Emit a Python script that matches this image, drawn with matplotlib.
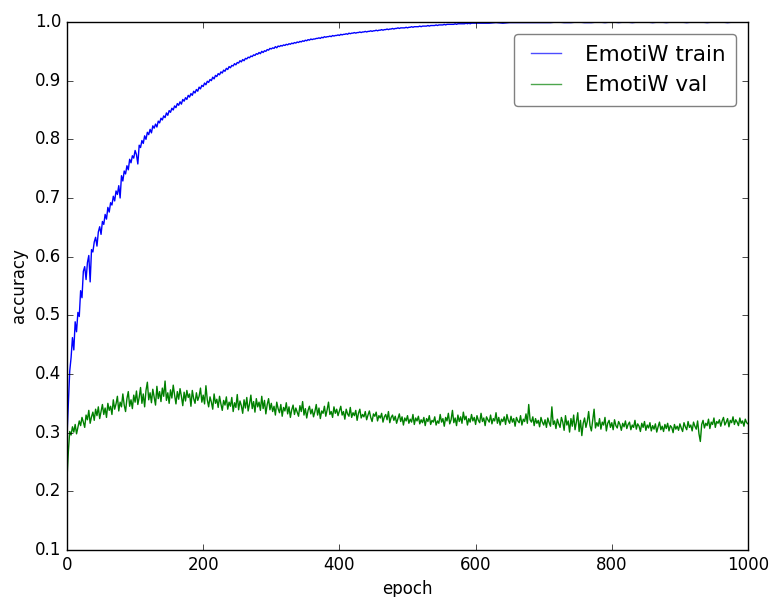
import matplotlib
matplotlib.use("Agg")
import matplotlib.pyplot as plt

plt.style.use("classic")

train_epochs = list(range(0, 601, 2)) + list(range(610, 1001, 10))
train_acc = [
    0.295, 0.352, 0.405, 0.428, 0.462, 0.441, 0.489, 0.472, 0.505, 0.498,
    0.542, 0.530, 0.575, 0.583, 0.561, 0.590, 0.602, 0.557, 0.612, 0.608,
    0.625, 0.633, 0.618, 0.642, 0.651, 0.638, 0.660, 0.655, 0.672, 0.664,
    0.684, 0.676, 0.692, 0.688, 0.703, 0.695, 0.712, 0.706, 0.721, 0.700,
    0.738, 0.729, 0.746, 0.741, 0.755, 0.748, 0.766, 0.760, 0.772, 0.768,
    0.781, 0.774, 0.758, 0.790, 0.786, 0.798, 0.793, 0.806, 0.800, 0.812,
    0.808, 0.817, 0.811, 0.823, 0.819, 0.826, 0.821, 0.831, 0.828, 0.836,
    0.833, 0.840, 0.837, 0.845, 0.841, 0.849, 0.846, 0.853, 0.850, 0.857,
    0.854, 0.861, 0.858, 0.864, 0.860, 0.868, 0.865, 0.871, 0.868, 0.875,
    0.872, 0.878, 0.875, 0.882, 0.879, 0.885, 0.882, 0.889, 0.886, 0.892,
    0.890, 0.896, 0.893, 0.899, 0.897, 0.902, 0.900, 0.906, 0.903, 0.909,
    0.907, 0.912, 0.910, 0.915, 0.913, 0.918, 0.916, 0.921, 0.919, 0.924,
    0.922, 0.926, 0.925, 0.929, 0.927, 0.931, 0.930, 0.934, 0.932, 0.936,
    0.934, 0.938, 0.937, 0.940, 0.939, 0.942, 0.941, 0.944, 0.943, 0.946,
    0.945, 0.948, 0.946, 0.950, 0.948, 0.951, 0.950, 0.953, 0.952, 0.955,
    0.954, 0.956, 0.955, 0.958, 0.956, 0.959, 0.958, 0.960, 0.959, 0.961,
    0.960, 0.962, 0.961, 0.963, 0.962, 0.964, 0.963, 0.965, 0.964, 0.966,
    0.965, 0.967, 0.966, 0.968, 0.967, 0.969, 0.968, 0.970, 0.969, 0.971,
    0.970, 0.971, 0.971, 0.972, 0.972, 0.973, 0.972, 0.974, 0.973, 0.975,
    0.974, 0.975, 0.975, 0.976, 0.975, 0.977, 0.976, 0.977, 0.977, 0.978,
    0.977, 0.979, 0.978, 0.979, 0.979, 0.980, 0.979, 0.981, 0.980, 0.981,
    0.981, 0.982, 0.981, 0.982, 0.982, 0.983, 0.982, 0.983, 0.983, 0.984,
    0.983, 0.984, 0.984, 0.985, 0.984, 0.985, 0.985, 0.986, 0.985, 0.986,
    0.986, 0.987, 0.986, 0.987, 0.987, 0.988, 0.987, 0.988, 0.988, 0.989,
    0.988, 0.989, 0.989, 0.990, 0.989, 0.990, 0.990, 0.990, 0.990, 0.991,
    0.990, 0.991, 0.991, 0.992, 0.991, 0.992, 0.992, 0.992, 0.992, 0.993,
    0.992, 0.993, 0.993, 0.993, 0.993, 0.994, 0.993, 0.994, 0.994, 0.994,
    0.994, 0.995, 0.994, 0.995, 0.995, 0.995, 0.995, 0.996, 0.995, 0.996,
    0.996, 0.996, 0.996, 0.996, 0.996, 0.997, 0.996, 0.997, 0.997, 0.997,
    0.997, 0.997, 0.997, 0.998, 0.997, 0.998, 0.997, 0.998, 0.998, 0.998,
    0.998,
    0.998, 0.998, 0.999, 0.998, 0.999, 0.999, 0.999, 0.999, 0.999, 0.999,
    0.999, 1.000, 0.999, 0.999, 1.000, 0.999, 0.999, 1.000, 0.999, 1.000,
    0.999, 1.000, 0.999, 1.000, 1.000, 0.999, 1.000, 0.999, 1.000, 1.000,
    0.999, 1.000, 1.000, 0.999, 1.000, 1.000, 0.999, 1.000, 1.000, 1.000,
]

val_epochs = list(range(0, 1001, 2))
val_acc = [
    0.222, 0.268, 0.302, 0.296, 0.310, 0.301, 0.314, 0.298, 0.309, 0.320,
    0.312, 0.326, 0.318, 0.309, 0.330, 0.322, 0.338, 0.316, 0.327, 0.335,
    0.321, 0.340, 0.329, 0.344, 0.324, 0.336, 0.348, 0.331, 0.342, 0.326,
    0.350, 0.338, 0.345, 0.331, 0.356, 0.340, 0.349, 0.362, 0.337, 0.352,
    0.344, 0.366, 0.347, 0.336, 0.358, 0.370, 0.345, 0.356, 0.341, 0.364,
    0.352, 0.371, 0.348, 0.360, 0.377, 0.350, 0.366, 0.344, 0.372, 0.386,
    0.356, 0.368, 0.351, 0.374, 0.360, 0.347, 0.379, 0.358, 0.370, 0.353,
    0.376, 0.362, 0.388, 0.355, 0.368, 0.350, 0.373, 0.359, 0.381, 0.364,
    0.349, 0.370, 0.357, 0.375, 0.362, 0.346, 0.369, 0.354, 0.372, 0.360,
    0.366, 0.345, 0.372, 0.358, 0.350, 0.368, 0.355, 0.362, 0.376, 0.352,
    0.364, 0.349, 0.380, 0.356, 0.344, 0.361, 0.352, 0.340, 0.366, 0.350,
    0.357, 0.343, 0.362, 0.349, 0.338, 0.355, 0.347, 0.361, 0.340, 0.352,
    0.345, 0.360, 0.336, 0.351, 0.343, 0.365, 0.339, 0.354, 0.346, 0.333,
    0.356, 0.342, 0.360, 0.337, 0.349, 0.364, 0.341, 0.353, 0.335, 0.358,
    0.344, 0.352, 0.338, 0.362, 0.341, 0.355, 0.332, 0.348, 0.358, 0.339,
    0.350, 0.336, 0.345, 0.330, 0.352, 0.341, 0.334, 0.348, 0.328, 0.343,
    0.337, 0.351, 0.332, 0.344, 0.326, 0.339, 0.347, 0.331, 0.342, 0.335,
    0.328, 0.346, 0.336, 0.353, 0.330, 0.341, 0.325, 0.338, 0.345, 0.332,
    0.340, 0.327, 0.336, 0.348, 0.330, 0.342, 0.324, 0.337, 0.333, 0.345,
    0.328, 0.339, 0.352, 0.331, 0.336, 0.326, 0.344, 0.333, 0.340, 0.329,
    0.337, 0.345, 0.330, 0.336, 0.323, 0.340, 0.332, 0.328, 0.343, 0.326,
    0.334, 0.329, 0.338, 0.321, 0.333, 0.340, 0.325, 0.331, 0.327, 0.336,
    0.322, 0.330, 0.337, 0.326, 0.319, 0.332, 0.328, 0.335, 0.320, 0.329,
    0.325, 0.333, 0.318, 0.327, 0.331, 0.322, 0.336, 0.317, 0.326, 0.330,
    0.321, 0.328, 0.316, 0.324, 0.332, 0.319, 0.327, 0.313, 0.325, 0.320,
    0.329, 0.316, 0.323, 0.318, 0.331, 0.314, 0.325, 0.320, 0.328, 0.315,
    0.322, 0.317, 0.326, 0.312, 0.324, 0.319, 0.329, 0.314, 0.321, 0.318,
    0.327, 0.313, 0.320, 0.316, 0.331, 0.318, 0.324, 0.311, 0.326, 0.320,
    0.333, 0.315, 0.322, 0.338, 0.317, 0.325, 0.312, 0.330, 0.319, 0.327,
    0.316, 0.335, 0.322, 0.328, 0.313, 0.324, 0.318, 0.331, 0.320, 0.326,
    0.314, 0.329, 0.321, 0.317, 0.333, 0.319, 0.325, 0.312, 0.327, 0.322,
    0.318, 0.330, 0.315, 0.324, 0.320, 0.334, 0.316, 0.326, 0.313, 0.323,
    0.319, 0.327, 0.314, 0.331, 0.321, 0.316, 0.328, 0.318, 0.324, 0.311,
    0.326, 0.320, 0.317, 0.329, 0.313, 0.323, 0.319, 0.332, 0.316, 0.348,
    0.322, 0.318, 0.327, 0.312, 0.324, 0.316, 0.321, 0.310, 0.326, 0.318,
    0.313, 0.322, 0.309, 0.325, 0.317, 0.311, 0.344, 0.314, 0.320, 0.307,
    0.323, 0.315, 0.309, 0.326, 0.318, 0.304, 0.329, 0.313, 0.320, 0.301,
    0.324, 0.311, 0.330, 0.305, 0.318, 0.334, 0.302, 0.321, 0.295, 0.316,
    0.325, 0.309, 0.319, 0.336, 0.312, 0.303, 0.322, 0.340, 0.308, 0.317,
    0.311, 0.324, 0.306, 0.318, 0.313, 0.326, 0.303, 0.316, 0.321, 0.309,
    0.317, 0.305, 0.322, 0.312, 0.308, 0.319, 0.314, 0.304, 0.316, 0.310,
    0.320, 0.307, 0.314, 0.318, 0.305, 0.313, 0.309, 0.321, 0.306, 0.315,
    0.311, 0.302, 0.316, 0.309, 0.319, 0.304, 0.313, 0.308, 0.317, 0.303,
    0.312, 0.306, 0.315, 0.301, 0.310, 0.318, 0.305, 0.311, 0.302, 0.314,
    0.307, 0.316, 0.303, 0.312, 0.309, 0.300, 0.314, 0.306, 0.311, 0.304,
    0.315, 0.308, 0.302, 0.317, 0.310, 0.305, 0.319, 0.309, 0.313, 0.303,
    0.318, 0.311, 0.306, 0.320, 0.298, 0.285, 0.314, 0.321, 0.308, 0.316,
    0.312, 0.323, 0.307, 0.318, 0.314, 0.325, 0.309, 0.319, 0.316, 0.322,
    0.311, 0.320, 0.326, 0.313, 0.318, 0.324, 0.310, 0.321, 0.317, 0.327,
    0.314, 0.322, 0.318, 0.312, 0.325, 0.316, 0.320, 0.311, 0.323, 0.317,
    0.315,
]

fig = plt.figure(figsize=(7.71, 5.97), dpi=100, facecolor="white")
ax = fig.add_axes([67 / 771, 1 - 550 / 597, (748 - 67) / 771, (550 - 22) / 597])
ax.plot(train_epochs, train_acc, color="b", lw=1.0, label="EmotiW train")
ax.plot(val_epochs, val_acc, color="g", lw=1.0, label="EmotiW val")
ax.set_xlim(0, 1000)
ax.set_ylim(0.1, 1.0)
ax.set_xticks([0, 200, 400, 600, 800, 1000])
ax.set_yticks([0.1, 0.2, 0.3, 0.4, 0.5, 0.6, 0.7, 0.8, 0.9, 1.0])
ax.tick_params(labelsize=12)
ax.set_xlabel("epoch", fontsize=12)
ax.set_ylabel("accuracy", fontsize=12)
leg = ax.legend(loc="upper right", fontsize=15.5, fancybox=True, framealpha=1.0,
                numpoints=2, borderpad=0.5, labelspacing=0.5, handlelength=2.0,
                handletextpad=0.8, borderaxespad=0.55)
leg.get_frame().set_edgecolor("0.5")
for h in leg.get_lines():
    h.set_alpha(0.7)
fig.savefig("out.png", dpi=100, facecolor="white")
